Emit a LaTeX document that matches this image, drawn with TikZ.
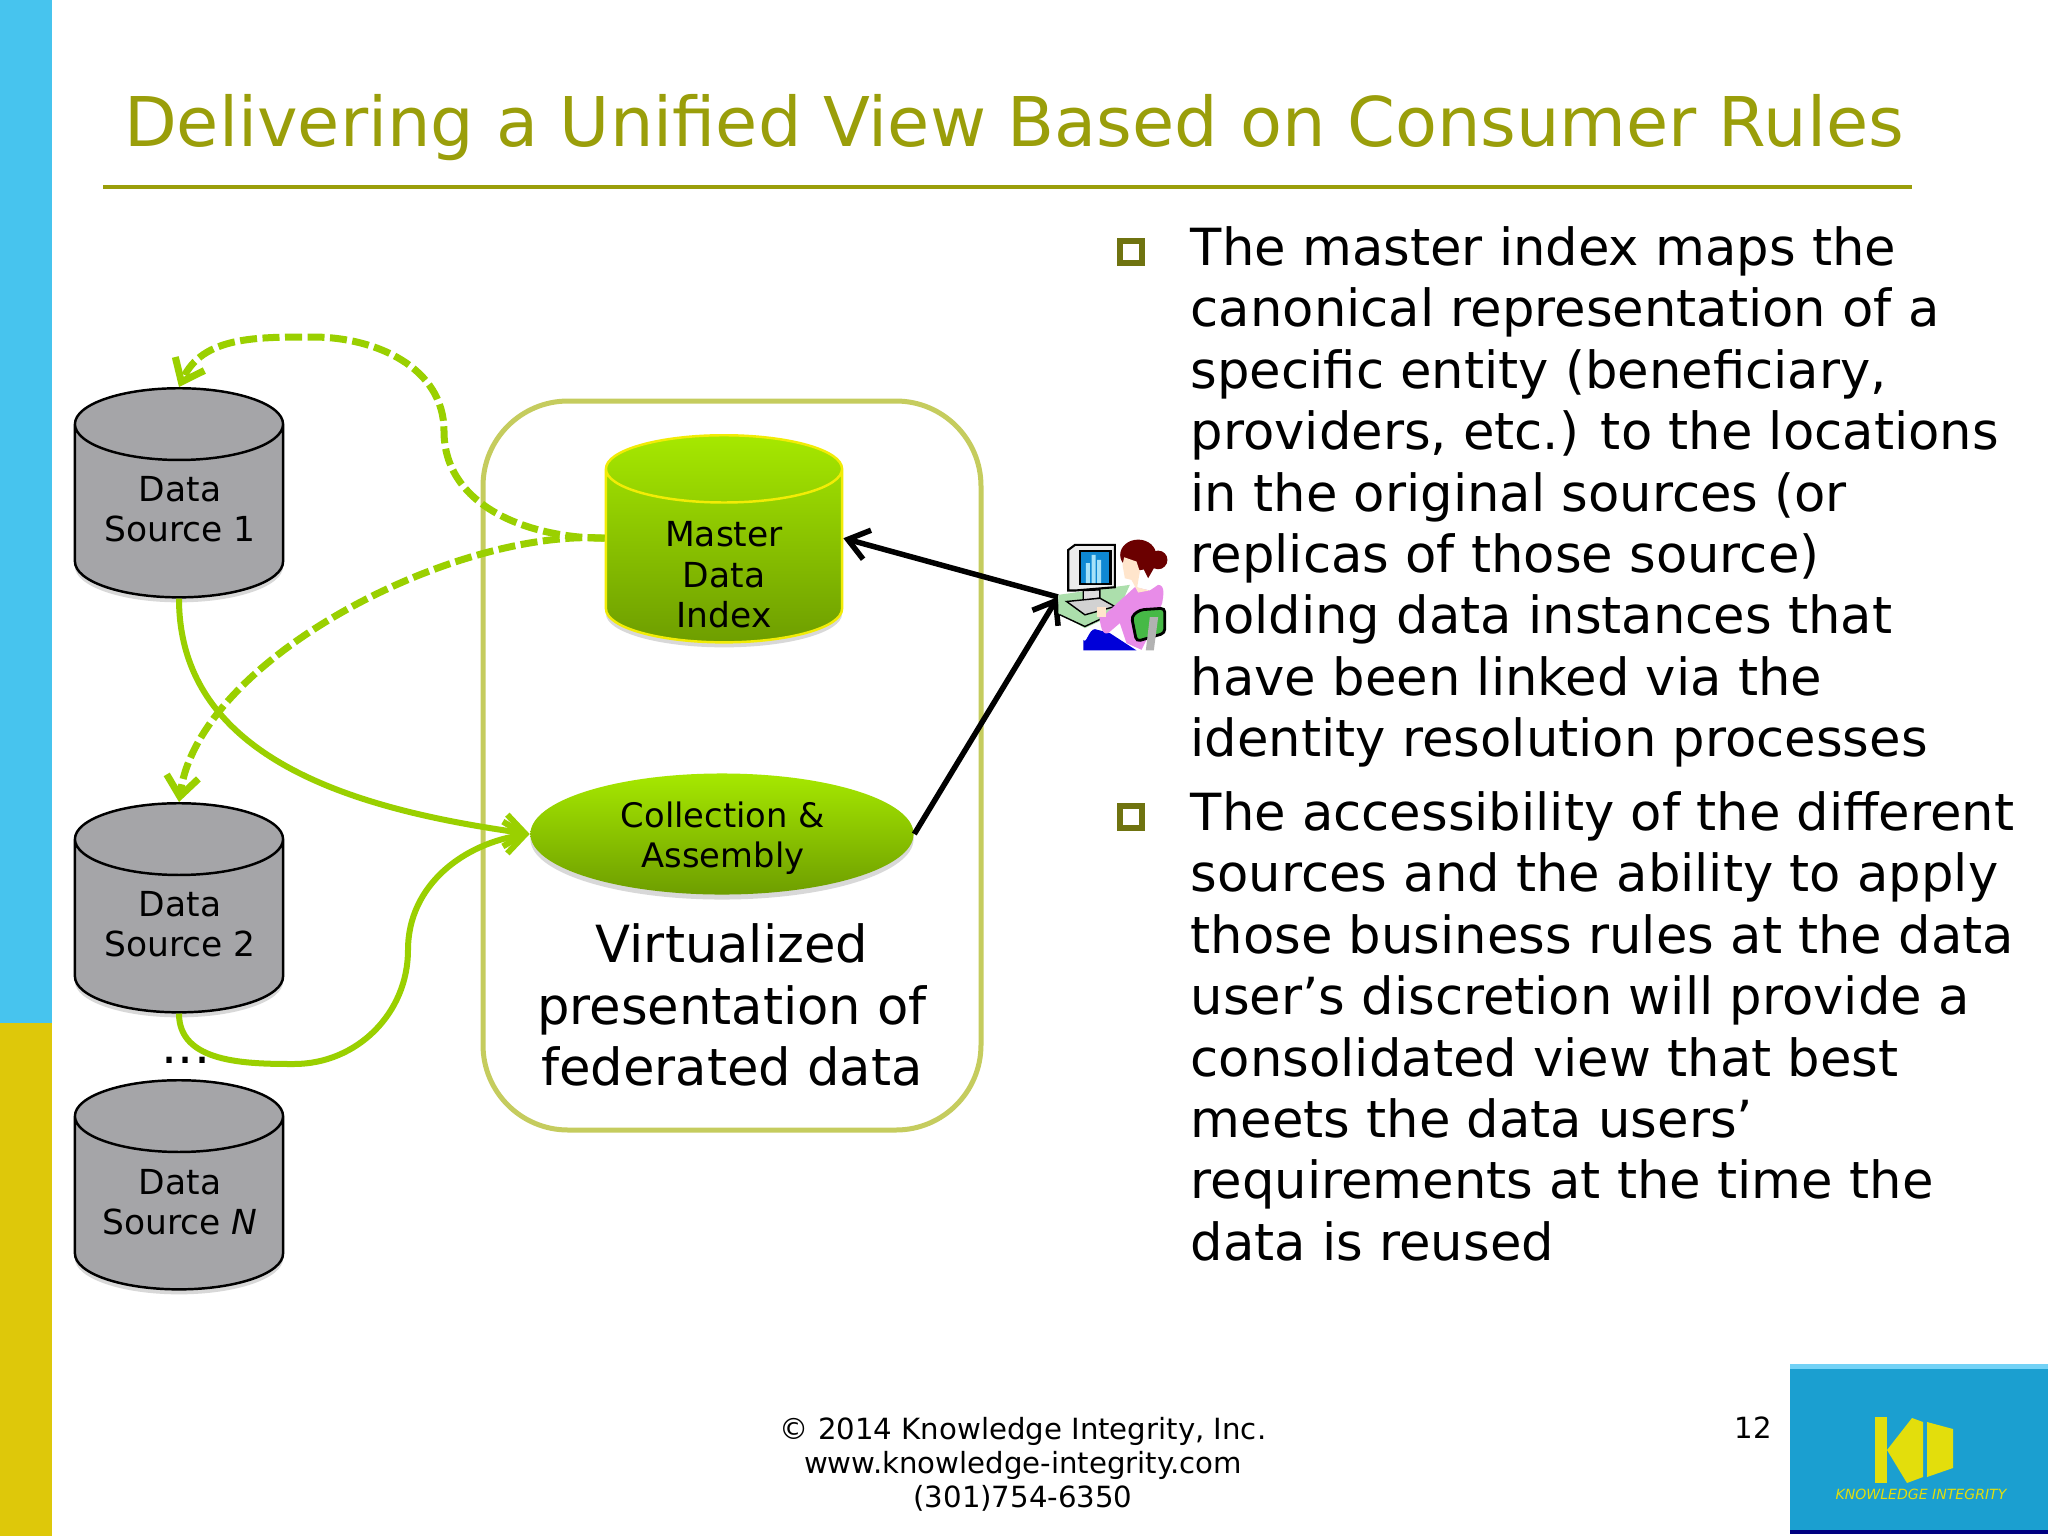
\documentclass[tikz,border=0pt]{standalone}
\usepackage{fontspec}
\setmainfont{DejaVu Sans}
\usetikzlibrary{arrows.meta,shapes.geometric,shadows}
\definecolor{titleol}{HTML}{9A9E0A}
\definecolor{barblue}{HTML}{47C4EE}
\definecolor{baryel}{HTML}{DEC80A}
\definecolor{boxol}{HTML}{C5CC5E}
\definecolor{flowgr}{HTML}{9AD000}
\definecolor{bulol}{HTML}{6F7310}
\definecolor{dbgray}{HTML}{A5A5A8}
\definecolor{lime}{HTML}{A6E800}
\definecolor{limedk}{HTML}{6E9E00}
\definecolor{logobl}{HTML}{1B9FD0}
\definecolor{logoyl}{HTML}{E3DE0C}
\tikzset{
  softshadow/.style={drop shadow={shadow xshift=0cm,shadow yshift=-0.05cm,opacity=.3}},
  srcdb/.style={shape=cylinder,shape border rotate=90,aspect=0.594,minimum width=2.08cm,minimum height=2.09cm,
    draw=black,line width=0.7pt,fill=dbgray,inner sep=0pt,anchor=north,softshadow},
  mdidb/.style={shape=cylinder,shape border rotate=90,aspect=0.56,minimum width=2.36cm,minimum height=2.07cm,
    draw=yellow!85!lime,line width=0.7pt,top color=lime,bottom color=limedk,inner sep=0pt,anchor=north,softshadow},
  dbtext/.style={inner sep=0pt,align=center,font=\fontsize{9.8}{11.5}\selectfont},
  caeoval/.style={shape=ellipse,minimum width=3.83cm,minimum height=1.21cm,inner sep=0pt,
    top color=lime,bottom color=limedk,softshadow},
  bulbox/.style={draw=bulol,line width=1.6pt,minimum size=0.22cm,inner sep=0pt},
  bodytxt/.style={anchor=north west,inner sep=0pt,align=left,font=\fontsize{14.56}{17.45}\selectfont},
  footline/.style={font=\fontsize{8.3}{9.7}\selectfont,align=center,inner sep=0pt},
  dashflow/.style={draw=flowgr,line width=0.07cm,dash pattern=on 0.17cm off 0.055cm,-{Straight Barb[length=0.2cm,width=0.32cm]}},
  solidflow/.style={draw=flowgr,line width=0.06cm,-{Straight Barb[length=0.2cm,width=0.32cm]}},
  userflow/.style={draw=black,line width=0.055cm,-{Straight Barb[length=0.2cm,width=0.3cm]}}
}
\begin{document}
\begin{tikzpicture}[x=0.01cm,y=-0.01cm]
\useasboundingbox (0,0) rectangle (2048,1536);
\fill[white] (0,0) rectangle (2048,1536);
\fill[barblue] (0,0) rectangle (52,1023);
\fill[baryel] (0,1023) rectangle (52,1536);

\node[text=titleol,font=\fontsize{19.5}{24}\selectfont,inner sep=0pt] (title) at (1014,128) {Delivering a Unified View Based on Consumer Rules};
\draw[titleol,line width=0.04cm] (103,187) -- (1912,187);

\draw[boxol,line width=0.05cm,rounded corners=0.85cm] (483,401) rectangle (981,1130);

\node[srcdb] (ds1) at (179,387) {\phantom{Source}};
\node[srcdb] (ds2) at (179,802) {\phantom{Source}};
\node[srcdb] (dsn) at (179,1079) {\phantom{Source}};
\node[mdidb] (mdi) at (724,434) {\phantom{Master}};
\node[dbtext] (ds1txt) at (180,509) {Data\\Source 1};
\node[dbtext] (ds2txt) at (180,924) {Data\\Source 2};
\node[dbtext] (dsntxt) at (180,1202) {Data\\Source \textit{N}};
\node[dbtext] (mditxt) at (724,575) {Master\\Data\\Index};
\node[caeoval] (cae) at (722,834) {};
\node[dbtext,font=\fontsize{9.6}{11.5}\selectfont] (caetxt) at (723,838) {Collection \&\\Assembly};
\node[inner sep=0pt,font=\fontsize{14.4}{14.4}\selectfont] (dots) at (186,1060) {...};
\node[inner sep=0pt,align=center,font=\fontsize{14.56}{17.45}\selectfont] (virt) at (732,1005) {Virtualized\\presentation of\\federated data};

\coordinate (usr) at (1058,597);
\coordinate (p1) at (444,431);
\coordinate (p2) at (313,337);
\coordinate (p3) at (294,1064);
\coordinate (p4) at (408,950);

\draw[dashflow] ([yshift=0.18cm]mdi.west) to[out=180,in=270] (p1) to[out=90,in=0] (p2) to[out=180,in=65] (ds1.north);
\draw[dashflow] ([yshift=0.18cm]mdi.west) to[out=176,in=82,looseness=0.75] (ds2.north);
\draw[solidflow] (ds1.south) to[out=270,in=172] (cae.west);
\draw[solidflow] (ds2.south) to[out=270,in=180] (p3) to[out=0,in=270] (p4) to[out=90,in=188] (cae.west);
\draw[userflow] (cae.east) to (usr);
\draw[userflow] (usr) to ([yshift=0.18cm]mdi.east);

\begin{scope}[shift={(1030,500)},x=0.00333cm,y=-0.00333cm]
\fill[green!45!gray!45!white] (85,285) -- (300,255) -- (262,340) -- (165,385) -- (85,340) -- cycle;
\draw[black,line width=0.4pt] (90,345) -- (165,380) -- (260,335);
\draw[black,fill=gray!15,line width=0.6pt] (115,150) -- (135,135) -- (255,135) -- (255,262) -- (135,272) -- (115,272) -- cycle;
\draw[black,fill=cyan!70!blue,line width=0.6pt] (150,152) rectangle (242,252);
\fill[cyan!35] (168,190) rectangle (180,250) (185,165) rectangle (197,250) (202,180) rectangle (214,250);
\draw[black,fill=gray!25,line width=0.4pt] (160,272) -- (210,270) -- (210,295) -- (160,302) -- cycle;
\draw[black,fill=gray!35,line width=0.4pt] (110,305) -- (210,295) -- (255,320) -- (165,345) -- cycle;
\fill[blue!85!black] (160,452) -- (160,420) to[out=300,in=180] (195,388) -- (240,400) -- (320,452) -- cycle;
\fill[violet!40!magenta!45!white] (315,262) -- (360,272) -- (385,255) to[out=0,in=80] (397,310) -- (365,390) -- (335,450) -- (290,430) -- (270,370) -- (235,400) to[out=200,in=280] (208,350) -- (225,345) -- (262,310) -- cycle;
\fill[red!42!black] (325,165) ellipse [x radius=54,y radius=46];
\fill[red!42!black] (385,180) circle [radius=28];
\fill[red!42!black] (335,195) -- (375,200) -- (355,235) -- cycle;
\fill[orange!20!white] (283,172) -- (320,185) -- (330,215) -- (322,262) -- (358,272) -- (325,278) -- (305,240) -- (285,235) -- (278,195) -- cycle;
\fill[orange!20!white] (200,320) rectangle (228,352);
\draw[black,fill=green!45!gray,line width=0.8pt,rounded corners=0.04cm] (305,350) -- (330,330) -- (405,325) -- (405,400) -- (320,425) -- cycle;
\fill[gray!60] (360,352) -- (385,352) -- (372,452) -- (348,452) -- cycle;
\end{scope}

\node[bulbox] (bul1) at (1131,252) {};
\node[bulbox] (bul2) at (1131,817) {};
\node[bodytxt] (para1) at (1190,226) {The master index maps the\\canonical representation of a\\specific entity (beneficiary,\\providers, etc.) to the locations\\in the original sources (or\\replicas of those source)\\holding data instances that\\have been linked via the\\identity resolution processes};
\node[bodytxt] (para2) at (1190,791) {The accessibility of the different\\sources and the ability to apply\\those business rules at the data\\user’s discretion will provide a\\consolidated view that best\\meets the data users’\\requirements at the time the\\data is reused};

\node[footline] (foot) at (1023,1464) {© 2014 Knowledge Integrity, Inc.\\www.knowledge-integrity.com\\(301)754-6350};
\node[inner sep=0pt,font=\fontsize{8.3}{11}\selectfont] (pageno) at (1753,1428) {12};

\fill[logobl] (1790,1364) rectangle (2048,1534);
\fill[cyan!55] (1790,1364) rectangle (2048,1369);
\fill[blue!50!black] (1790,1530) rectangle (2048,1534);
\fill[logoyl] (1875,1417) rectangle (1887,1483);
\fill[logoyl] (1887,1450) -- (1912,1418) -- (1923,1422) -- (1923,1477) -- (1907,1483) -- cycle;
\fill[logoyl] (1927,1422) -- (1953,1429) -- (1953,1468) -- (1927,1477) -- cycle;
\node[text=logoyl,inner sep=0pt,font=\fontsize{4}{5}\selectfont\itshape] (logotxt) at (1921,1494) {KNOWLEDGE INTEGRITY};
\end{tikzpicture}
\end{document}
